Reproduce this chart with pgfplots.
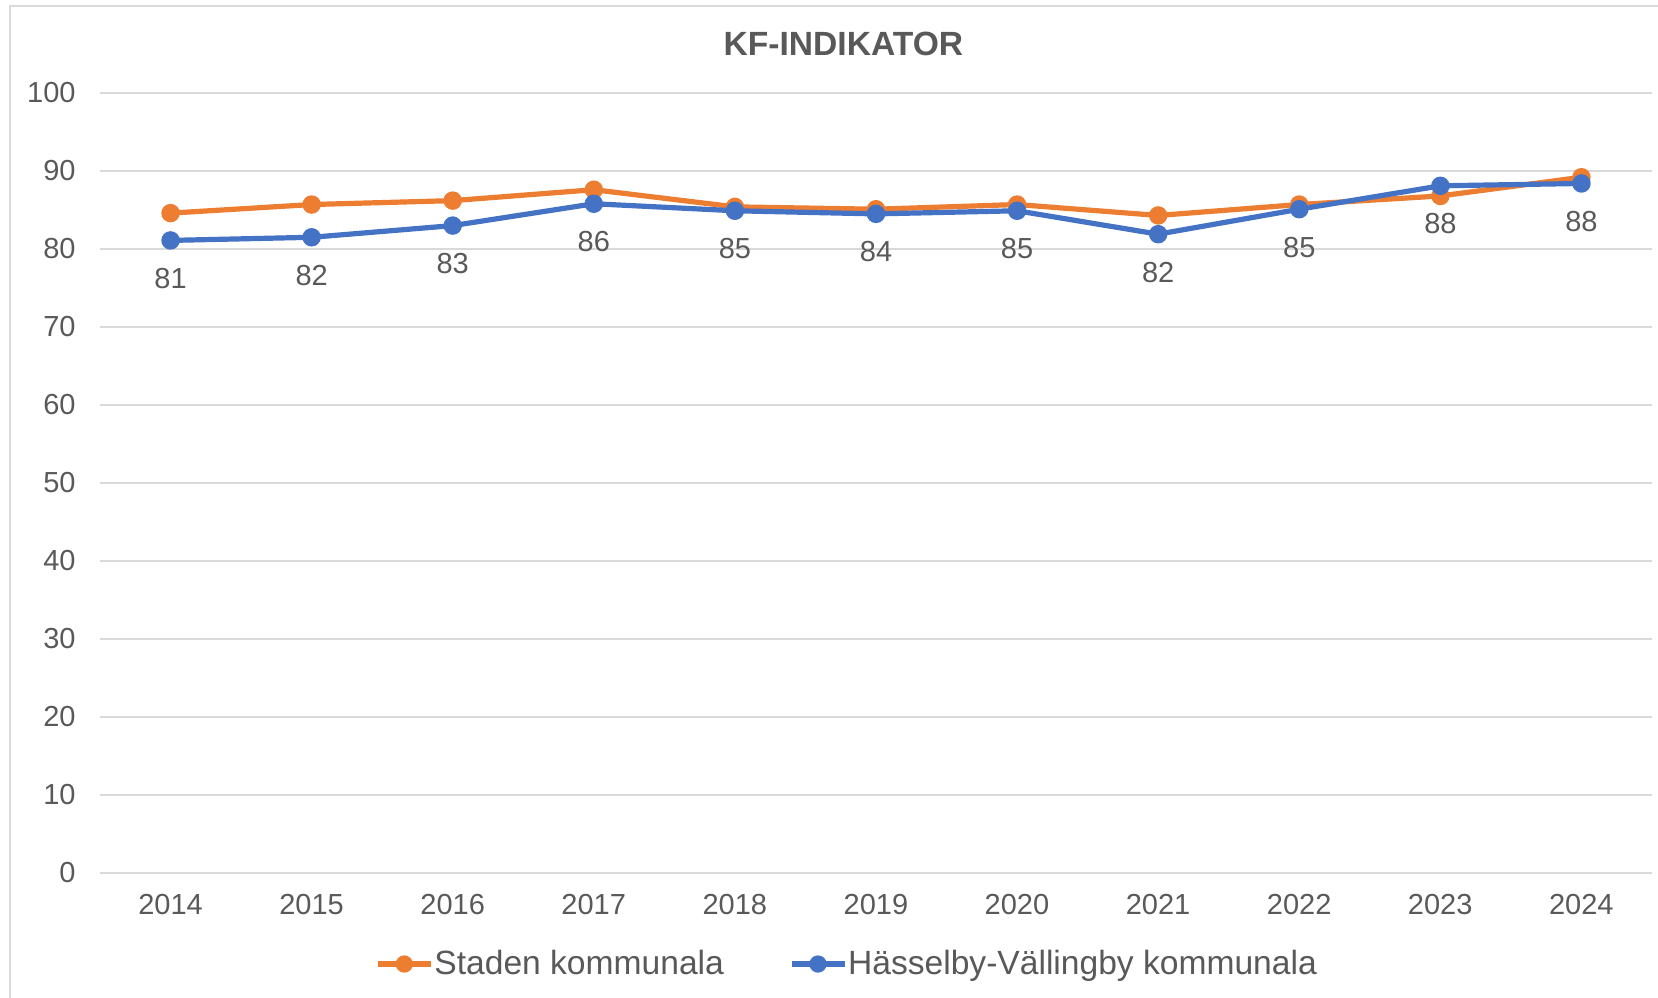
\documentclass[border=0pt]{standalone}
\usepackage{fontspec}
\setmainfont{Liberation Sans}
\usepackage{pgfplots}
\pgfplotsset{compat=1.18}
\definecolor{stadorange}{HTML}{ED7D31}
\definecolor{hvblue}{HTML}{4472C4}
\definecolor{gridgray}{HTML}{D9D9D9}
\definecolor{txtgray}{HTML}{595959}

\begin{document}
\begin{tikzpicture}
\useasboundingbox (0bp,0bp) rectangle (829bp,499bp);
\draw[gridgray, line width=0.75bp] (5bp,-2bp) -- (5bp,496bp) -- (831bp,496bp);
\begin{axis}[
    at={(50bp,62.5bp)}, anchor=south west,
    scale only axis,
    width=776bp, height=390bp,
    xmin=2013.5, xmax=2024.5,
    ymin=0, ymax=100,
    xtick={2014,...,2024},
    ytick={0,10,...,100},
    axis line style={draw=none},
    major tick length=0pt,
    ymajorgrids,
    major grid style={gridgray, line width=0.75bp},
    /pgf/number format/1000 sep={},
    /pgf/number format/assume math mode=true,
    ticklabel style={font=\fontsize{14.5bp}{17bp}\selectfont, text=txtgray, inner sep=0pt},
    yticklabel style={anchor=east, xshift=-12bp},
    xticklabel style={anchor=north, yshift=-10.5bp},
    title={KF-INDIKATOR},
    title style={at={(0.479,1.047)}, anchor=center, font=\fontsize{16.8bp}{20bp}\selectfont\bfseries, text=txtgray},
    legend style={draw=none, at={(0.481,-0.1167)}, anchor=center,
        legend columns=2, font=\fontsize{16.8bp}{20bp}\selectfont, text=txtgray,
        nodes={inner sep=0.5bp},
        /tikz/every even column/.append style={column sep=32bp}},
    legend image code/.code={\draw[mark repeat=2,mark phase=2,#1,mark size=3bp] plot coordinates {(0bp,0bp) (13.25bp,0bp) (26.5bp,0bp)};},
]
\addplot[stadorange, line width=2.6bp, mark=*, mark size=3.3bp] coordinates {
    (2014,84.6) (2015,85.7) (2016,86.2) (2017,87.6) (2018,85.4) (2019,85.1)
    (2020,85.7) (2021,84.3) (2022,85.7) (2023,86.8) (2024,89.2)
};
\addplot[hvblue, line width=2.6bp, mark=*, mark size=3.3bp,
    point meta=explicit symbolic,
    nodes near coords,
    every node near coord/.append style={anchor=center, yshift=-19bp, text=txtgray,
        font=\fontsize{14.5bp}{17bp}\selectfont, inner sep=0pt}] coordinates {
    (2014,81.1) [81] (2015,81.5) [82] (2016,83.0) [83] (2017,85.8) [86]
    (2018,84.9) [85] (2019,84.5) [84] (2020,84.9) [85] (2021,81.9) [82]
    (2022,85.1) [85] (2023,88.1) [88] (2024,88.4) [88]
};
\legend{Staden kommunala, Hässelby-Vällingby kommunala}
\end{axis}
\end{tikzpicture}
\end{document}
